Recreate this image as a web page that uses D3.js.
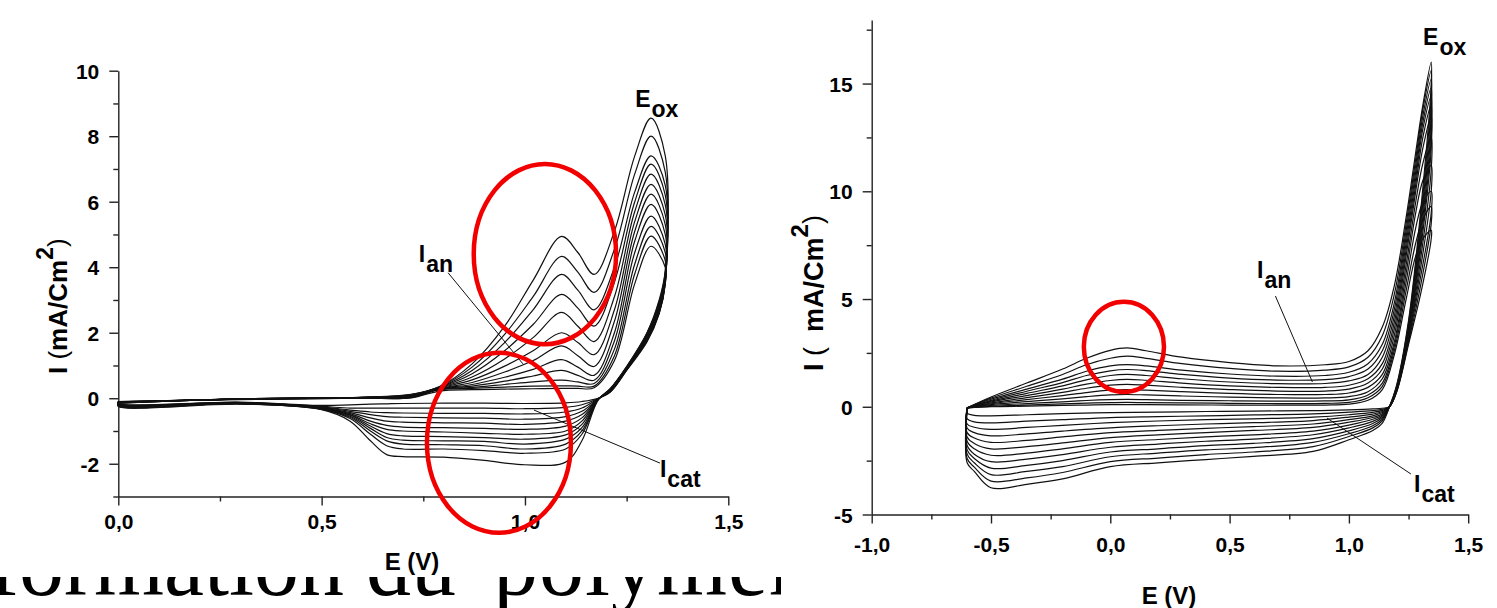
<!DOCTYPE html>
<html>
<head>
<meta charset="utf-8">
<script src="https://cdn.jsdelivr.net/npm/d3@7"></script>
<style>
  body { margin: 0; background: #fff; }
  svg { display: block; }
</style>
</head>
<body>
<svg id="chart" width="1497" height="608"></svg>
<script>
// ---------- data ----------

// Left voltammogram, anodic (forward) scan: potential grid and current for 12 cycles
const leftFwdE = [0, 0.3, 0.6, 0.72, 0.79, 0.87, 0.95, 1.02, 1.09, 1.13, 1.17, 1.22, 1.27, 1.31, 1.345];
const leftFwdI = [
  [-0.10, -0.04, 0.00, 0.01, 0.22, 0.26, 0.28, 0.29, 0.30, 0.30, 0.32, 1.15, 3.50, 4.64, 4.00],
  [-0.10, -0.03, 0.00, 0.02, 0.26, 0.30, 0.34, 0.37, 0.38, 0.37, 0.37, 1.30, 3.80, 4.95, 4.20],
  [-0.11, -0.03, 0.01, 0.03, 0.27, 0.33, 0.42, 0.50, 0.55, 0.50, 0.45, 1.50, 4.10, 5.25, 4.45],
  [-0.11, -0.03, 0.01, 0.04, 0.28, 0.37, 0.52, 0.68, 0.85, 0.70, 0.55, 1.75, 4.45, 5.56, 4.70],
  [-0.12, -0.03, 0.01, 0.05, 0.29, 0.42, 0.64, 0.88, 1.18, 0.95, 0.70, 2.00, 4.80, 5.92, 5.00],
  [-0.12, -0.02, 0.02, 0.06, 0.30, 0.48, 0.80, 1.15, 1.60, 1.30, 0.97, 2.35, 5.10, 6.23, 5.30],
  [-0.13, -0.02, 0.02, 0.07, 0.31, 0.56, 0.98, 1.45, 2.00, 1.70, 1.33, 2.70, 5.40, 6.53, 5.60],
  [-0.13, -0.02, 0.02, 0.08, 0.32, 0.65, 1.20, 1.85, 2.62, 2.20, 1.73, 3.10, 5.70, 6.84, 5.90],
  [-0.14, -0.02, 0.03, 0.09, 0.33, 0.75, 1.45, 2.25, 3.17, 2.75, 2.20, 3.55, 6.00, 7.15, 6.20],
  [-0.14, -0.02, 0.03, 0.10, 0.34, 0.85, 1.70, 2.70, 3.78, 3.30, 2.70, 4.00, 6.30, 7.40, 6.50],
  [-0.15, -0.02, 0.03, 0.11, 0.35, 0.95, 1.95, 3.10, 4.33, 3.85, 3.23, 4.55, 6.85, 8.00, 6.90],
  [-0.15, -0.02, 0.03, 0.12, 0.36, 1.05, 2.20, 3.60, 4.94, 4.45, 3.78, 5.10, 7.40, 8.55, 7.40]
];
// Left voltammogram, cathodic (return) scan
const leftRevE = [1.345, 1.33, 1.3, 1.25, 1.21, 1.18, 1.14, 1.1, 1.0, 0.9, 0.8, 0.7, 0.66, 0.62, 0.57, 0.5, 0.3, 0];
const leftRevI = [
  [3.50, 2.58, 1.72, 0.85, 0.19, 0.00, -0.10, -0.14, -0.16, -0.15, -0.15, -0.16, -0.17, -0.18, -0.20, -0.22, -0.12, -0.16],
  [3.50, 2.60, 1.75, 0.86, 0.20, -0.01, -0.20, -0.28, -0.32, -0.30, -0.30, -0.30, -0.30, -0.30, -0.30, -0.25, -0.13, -0.17],
  [3.55, 2.62, 1.78, 0.87, 0.21, -0.01, -0.30, -0.42, -0.48, -0.46, -0.46, -0.45, -0.44, -0.42, -0.36, -0.27, -0.13, -0.18],
  [3.55, 2.65, 1.80, 0.88, 0.22, -0.02, -0.40, -0.56, -0.64, -0.61, -0.60, -0.58, -0.56, -0.50, -0.40, -0.28, -0.14, -0.19],
  [3.60, 2.68, 1.82, 0.89, 0.23, -0.02, -0.50, -0.70, -0.80, -0.76, -0.75, -0.73, -0.70, -0.60, -0.44, -0.29, -0.14, -0.20],
  [3.60, 2.70, 1.85, 0.90, 0.24, -0.02, -0.60, -0.85, -0.95, -0.92, -0.90, -0.88, -0.83, -0.70, -0.47, -0.30, -0.15, -0.20],
  [3.65, 2.75, 1.88, 0.92, 0.25, -0.03, -0.70, -1.00, -1.10, -1.07, -1.03, -1.00, -0.95, -0.78, -0.50, -0.30, -0.15, -0.21],
  [3.70, 2.80, 1.90, 0.93, 0.26, -0.03, -0.80, -1.12, -1.25, -1.20, -1.17, -1.15, -1.08, -0.85, -0.52, -0.31, -0.16, -0.22],
  [3.75, 2.85, 1.93, 0.94, 0.27, -0.03, -0.90, -1.25, -1.40, -1.32, -1.30, -1.28, -1.20, -0.92, -0.55, -0.32, -0.16, -0.22],
  [3.80, 2.90, 1.95, 0.95, 0.28, -0.04, -1.00, -1.40, -1.55, -1.45, -1.42, -1.40, -1.30, -1.00, -0.58, -0.33, -0.17, -0.23],
  [3.85, 2.95, 1.98, 0.96, 0.29, -0.04, -1.10, -1.55, -1.68, -1.60, -1.55, -1.55, -1.45, -1.10, -0.62, -0.34, -0.17, -0.24],
  [3.90, 3.00, 2.00, 0.97, 0.30, -0.05, -1.30, -1.95, -2.03, -1.90, -1.80, -1.78, -1.72, -1.30, -0.70, -0.35, -0.18, -0.25]
];

// Right voltammogram, anodic (forward) scan
const rightFwdE = [-0.6, -0.5, -0.35, -0.2, -0.1, 0.0, 0.07, 0.15, 0.3, 0.5, 0.7, 0.9, 1.0, 1.08, 1.14, 1.19, 1.24, 1.28, 1.31, 1.345];
const rightFwdI = [
  [-0.05, 0.00, 0.03, 0.06, 0.08, 0.10, 0.10, 0.10, 0.09, 0.08, 0.08, 0.08, 0.12, 0.30, 0.80, 2.40, 5.00, 7.00, 7.80, 8.20],
  [-0.05, 0.02, 0.08, 0.13, 0.17, 0.19, 0.20, 0.19, 0.18, 0.16, 0.15, 0.16, 0.20, 0.42, 0.95, 2.60, 5.40, 7.60, 8.70, 9.30],
  [-0.05, 0.06, 0.15, 0.23, 0.29, 0.33, 0.34, 0.33, 0.30, 0.28, 0.26, 0.27, 0.32, 0.55, 1.10, 2.80, 5.80, 8.30, 9.50, 10.0],
  [-0.05, 0.10, 0.24, 0.37, 0.47, 0.55, 0.57, 0.55, 0.50, 0.45, 0.41, 0.41, 0.47, 0.70, 1.30, 3.00, 6.20, 9.00, 10.5, 11.2],
  [-0.05, 0.14, 0.33, 0.52, 0.66, 0.77, 0.80, 0.77, 0.70, 0.62, 0.57, 0.57, 0.64, 0.90, 1.50, 3.30, 6.60, 9.50, 11.3, 12.5],
  [-0.05, 0.18, 0.42, 0.67, 0.86, 1.00, 1.04, 1.00, 0.90, 0.80, 0.73, 0.73, 0.82, 1.10, 1.75, 3.60, 7.00, 10.0, 12.0, 13.5],
  [-0.05, 0.22, 0.52, 0.82, 1.05, 1.22, 1.27, 1.23, 1.10, 0.97, 0.90, 0.90, 1.00, 1.30, 2.00, 3.90, 7.30, 10.3, 12.5, 14.0],
  [-0.05, 0.26, 0.62, 0.97, 1.25, 1.45, 1.50, 1.45, 1.30, 1.15, 1.07, 1.08, 1.20, 1.50, 2.30, 4.20, 7.60, 10.6, 12.9, 14.4],
  [-0.05, 0.30, 0.72, 1.12, 1.45, 1.67, 1.73, 1.68, 1.50, 1.33, 1.24, 1.26, 1.40, 1.75, 2.60, 4.50, 7.90, 10.9, 13.2, 14.8],
  [-0.05, 0.35, 0.82, 1.28, 1.65, 1.90, 1.96, 1.90, 1.70, 1.52, 1.42, 1.45, 1.60, 2.00, 2.90, 4.80, 8.20, 11.2, 13.5, 15.2],
  [-0.05, 0.40, 0.95, 1.50, 1.95, 2.25, 2.35, 2.25, 2.00, 1.78, 1.65, 1.70, 1.85, 2.30, 3.30, 5.20, 8.50, 11.5, 13.8, 15.6],
  [-0.05, 0.45, 1.10, 1.75, 2.25, 2.62, 2.73, 2.60, 2.30, 2.05, 1.90, 1.95, 2.10, 2.60, 3.70, 5.60, 8.80, 11.8, 14.0, 16.0]
];
// Right voltammogram, cathodic (return) scan
const rightRevE = [1.345, 1.3, 1.25, 1.2, 1.17, 1.14, 1.1, 1.0, 0.85, 0.6, 0.4, 0.2, 0.0, -0.2, -0.35, -0.5, -0.57, -0.6];
const rightRevI = [
  [7.8, 5.2, 2.9, 0.68, 0.0, -0.07, -0.10, -0.14, -0.18, -0.20, -0.22, -0.25, -0.27, -0.32, -0.37, -0.42, -0.40, -0.30],
  [8.5, 5.6, 3.0, 0.70, 0.0, -0.12, -0.18, -0.25, -0.33, -0.38, -0.42, -0.46, -0.50, -0.60, -0.67, -0.75, -0.70, -0.55],
  [9.0, 6.0, 3.1, 0.72, 0.0, -0.17, -0.26, -0.37, -0.48, -0.56, -0.60, -0.66, -0.74, -0.86, -0.96, -1.05, -0.95, -0.80],
  [10.0, 6.4, 3.2, 0.75, 0.0, -0.22, -0.34, -0.48, -0.64, -0.74, -0.80, -0.88, -0.98, -1.13, -1.26, -1.35, -1.20, -1.00],
  [11.0, 6.8, 3.3, 0.78, 0.0, -0.27, -0.42, -0.60, -0.80, -0.92, -1.00, -1.10, -1.20, -1.40, -1.56, -1.65, -1.45, -1.20],
  [12.0, 7.2, 3.4, 0.80, 0.0, -0.32, -0.50, -0.72, -0.96, -1.10, -1.20, -1.30, -1.43, -1.68, -1.85, -1.95, -1.70, -1.40],
  [12.5, 7.5, 3.5, 0.82, 0.0, -0.38, -0.58, -0.85, -1.13, -1.30, -1.40, -1.52, -1.65, -1.95, -2.15, -2.25, -1.95, -1.60],
  [13.0, 7.8, 3.6, 0.85, 0.0, -0.44, -0.68, -0.98, -1.30, -1.50, -1.60, -1.73, -1.88, -2.22, -2.43, -2.55, -2.20, -1.80],
  [13.5, 8.1, 3.7, 0.88, 0.0, -0.50, -0.78, -1.12, -1.48, -1.70, -1.80, -1.95, -2.10, -2.50, -2.72, -2.85, -2.40, -2.00],
  [14.0, 8.4, 3.8, 0.90, 0.0, -0.58, -0.88, -1.25, -1.65, -1.90, -2.00, -2.15, -2.32, -2.78, -3.00, -3.15, -2.60, -2.20],
  [14.5, 8.7, 3.9, 0.95, 0.0, -0.65, -0.98, -1.38, -1.85, -2.10, -2.22, -2.38, -2.55, -3.05, -3.30, -3.45, -2.80, -2.40],
  [15.0, 9.0, 4.0, 1.00, 0.0, -0.76, -1.10, -1.53, -2.07, -2.30, -2.45, -2.60, -2.78, -3.35, -3.60, -3.76, -3.00, -2.60]
];

// Tick values
const leftXTicks = [0, 0.5, 1.0, 1.5];
const leftXMinor = [0.25, 0.75, 1.25];
const leftYTicks = [10, 8, 6, 4, 2, 0, -2];
const leftYMinor = [9, 7, 5, 3, 1, -1, -3];
const rightXTicks = [-1.0, -0.5, 0.0, 0.5, 1.0, 1.5];
const rightXMinor = [-0.75, -0.25, 0.25, 0.75, 1.25];
const rightYTicks = [15, 10, 5, 0, -5];
const rightYMinor = [17.5, 12.5, 7.5, 2.5, -2.5];

// Annotations, in data units (E in V, I in mA/cm2)
const leftLabels = [
  { main: 'E', sub: 'ox', E: 1.271, I: 8.89 },
  { main: 'I', sub: 'an', E: 0.739, I: 4.16 },
  { main: 'I', sub: 'cat', E: 1.332, I: -2.40 }
];
const leftLeaders = [
  { from: [0.811, 3.83], to: [0.995, 1.05] },
  { from: [1.022, -0.36], to: [1.332, -1.98] }
];
const leftCircles = [
  { E: 1.049, I: 4.40, rE: 0.175, rI: 2.75 },
  { E: 0.936, I: -1.36, rE: 0.177, rI: 2.75 }
];
const rightLabels = [
  { main: 'E', sub: 'ox', E: 1.311, I: 16.79 },
  { main: 'I', sub: 'an', E: 0.615, I: 5.98 },
  { main: 'I', sub: 'cat', E: 1.273, I: -3.95 }
];
const rightLeaders = [
  { from: [0.692, 5.14], to: [0.847, 1.15] },
  { from: [0.908, -0.52], to: [1.260, -3.12] }
];
const rightCircles = [
  { E: 0.057, I: 2.78, rE: 0.168, rI: 2.09 }
];

// ---------- drawing ----------
const svg = d3.select('#chart');
const sans = "Arial, 'Liberation Sans', Helvetica, sans-serif";
const serif = "'Times New Roman', 'Liberation Serif', serif";

// Slide title behind the charts, only its lower strip shows
svg.append('clipPath').attr('id', 'titleClip')
  .append('rect').attr('x', -20).attr('y', 577).attr('width', 801).attr('height', 40);

const title = svg.append('g').attr('clip-path', 'url(#titleClip)')
  .attr('font-family', serif).attr('font-size', 90).attr('fill', '#000');
title.append('text').attr('x', -11).attr('y', 595).text('formation');
title.append('text').attr('x', 366).attr('y', 595).text('du');
title.append('text').attr('x', 493).attr('y', 595).attr('letter-spacing', 1).text('polymère');

const fmtX = d => d.toFixed(1).replace('.', ',');
const fmtY = d => String(d);

function drawPanel(p) {
  const x = d3.scaleLinear().domain(p.xDomain).range(p.xRange);
  const y = d3.scaleLinear().domain(p.yDomain).range(p.yRange);
  const g = svg.append('g');

  // Axes
  const xAxis = g.append('g')
    .attr('transform', `translate(0,${p.yRange[0]})`)
    .call(d3.axisBottom(x).tickValues(p.xTicks).tickSize(9).tickSizeOuter(0).tickFormat(fmtX));
  xAxis.selectAll('text').attr('y', p.xLabelOffset).attr('dy', null);

  g.append('g')
    .attr('transform', `translate(0,${p.yRange[0]})`)
    .call(d3.axisBottom(x).tickValues(p.xMinor).tickSize(5).tickSizeOuter(0).tickFormat(''))
    .select('.domain').remove();

  const yAxis = g.append('g')
    .attr('transform', `translate(${p.xRange[0]},0)`)
    .call(d3.axisLeft(y).tickValues(p.yTicks).tickSize(9).tickPadding(10).tickSizeOuter(0).tickFormat(fmtY));
  yAxis.selectAll('text').attr('dy', '0.36em');

  g.append('g')
    .attr('transform', `translate(${p.xRange[0]},0)`)
    .call(d3.axisLeft(y).tickValues(p.yMinor).tickSize(5).tickSizeOuter(0).tickFormat(''))
    .select('.domain').remove();

  g.selectAll('.domain, .tick line').attr('stroke', '#222').attr('stroke-width', 1.4);
  g.selectAll('.tick text')
    .attr('font-family', sans).attr('font-size', 21).attr('font-weight', 'bold').attr('fill', '#000');

  // Axis titles
  g.append('text')
    .attr('x', p.xTitle[0]).attr('y', p.xTitle[1])
    .attr('text-anchor', 'middle')
    .attr('font-family', sans).attr('font-size', 24).attr('font-weight', 'bold')
    .text('E (V)');

  const yt = g.append('text')
    .attr('transform', `translate(${p.yTitle[0]},${p.yTitle[1]}) rotate(-90)`)
    .attr('font-family', sans).attr('font-size', p.yTitleSize).attr('font-weight', 'bold');
  yt.append('tspan').text('I');
  yt.append('tspan').attr('font-weight', 'normal').text(p.yTitleGap);
  yt.append('tspan').text('mA/Cm');
  yt.append('tspan').attr('font-size', p.yTitleSize - 3).attr('dy', '-0.62em').text('2');
  yt.append('tspan').attr('font-weight', 'normal').attr('dy', '0.52em').text(')');

  // Voltammetric cycles
  const line = d3.line()
    .x(d => x(d[0]))
    .y(d => y(d[1]))
    .curve(d3.curveCatmullRom.alpha(0.5));

  const cycles = p.fwdI.map((fwd, k) => {
    const pts = p.fwdE.map((e, i) => [e, fwd[i]])
      .concat(p.revE.map((e, i) => [e, p.revI[k][i]]));
    pts.push(pts[0]);
    return pts;
  });

  g.append('g')
    .selectAll('path')
    .data(cycles)
    .join('path')
    .attr('d', line)
    .attr('fill', 'none')
    .attr('stroke', '#111')
    .attr('stroke-width', 1.2)
    .attr('stroke-linejoin', 'round');

  // Leader lines
  g.selectAll('line.leader')
    .data(p.leaders)
    .join('line')
    .attr('class', 'leader')
    .attr('x1', d => x(d.from[0])).attr('y1', d => y(d.from[1]))
    .attr('x2', d => x(d.to[0])).attr('y2', d => y(d.to[1]))
    .attr('stroke', '#111').attr('stroke-width', 1);

  // Labels with subscripts
  const lab = g.selectAll('text.lab')
    .data(p.labels)
    .join('text')
    .attr('class', 'lab')
    .attr('x', d => x(d.E)).attr('y', d => y(d.I))
    .attr('font-family', sans).attr('font-size', 23).attr('font-weight', 'bold');
  lab.append('tspan').text(d => d.main);
  lab.append('tspan').attr('dy', 10).attr('dx', 1).text(d => d.sub);

  // Red circles
  g.selectAll('ellipse')
    .data(p.circles)
    .join('ellipse')
    .attr('cx', d => x(d.E)).attr('cy', d => y(d.I))
    .attr('rx', d => x(d.E + d.rE) - x(d.E))
    .attr('ry', d => y(d.I - d.rI) - y(d.I))
    .attr('fill', 'none')
    .attr('stroke', '#f20000')
    .attr('stroke-width', 4.5);
}

drawPanel({
  xDomain: [0, 1.5], xRange: [118.3, 728.3],
  yDomain: [-3, 10], yRange: [496.5, 70.7],
  xTicks: leftXTicks, xMinor: leftXMinor, yTicks: leftYTicks, yMinor: leftYMinor,
  xLabelOffset: 32.5, xTitle: [412, 570], yTitle: [67, 374], yTitleGap: ' (', yTitleSize: 26,
  fwdE: leftFwdE, fwdI: leftFwdI, revE: leftRevE, revI: leftRevI,
  labels: leftLabels, leaders: leftLeaders, circles: leftCircles
});

// the right chart sits on its own white card over the slide text
svg.append('rect').attr('x', 781).attr('y', 0).attr('width', 716).attr('height', 608).attr('fill', '#fff');

drawPanel({
  xDomain: [-1, 1.5], xRange: [871.7, 1468.2],
  yDomain: [-5, 17.95], yRange: [514.5, 20],
  xTicks: rightXTicks, xMinor: rightXMinor, yTicks: rightYTicks, yMinor: rightYMinor,
  xLabelOffset: 37.5, xTitle: [1169, 604], yTitle: [823, 371], yTitleGap: '\u00a0(\u00a0\u00a0', yTitleSize: 27,
  fwdE: rightFwdE, fwdI: rightFwdI, revE: rightRevE, revI: rightRevI,
  labels: rightLabels, leaders: rightLeaders, circles: rightCircles
});
</script>
</body>
</html>
